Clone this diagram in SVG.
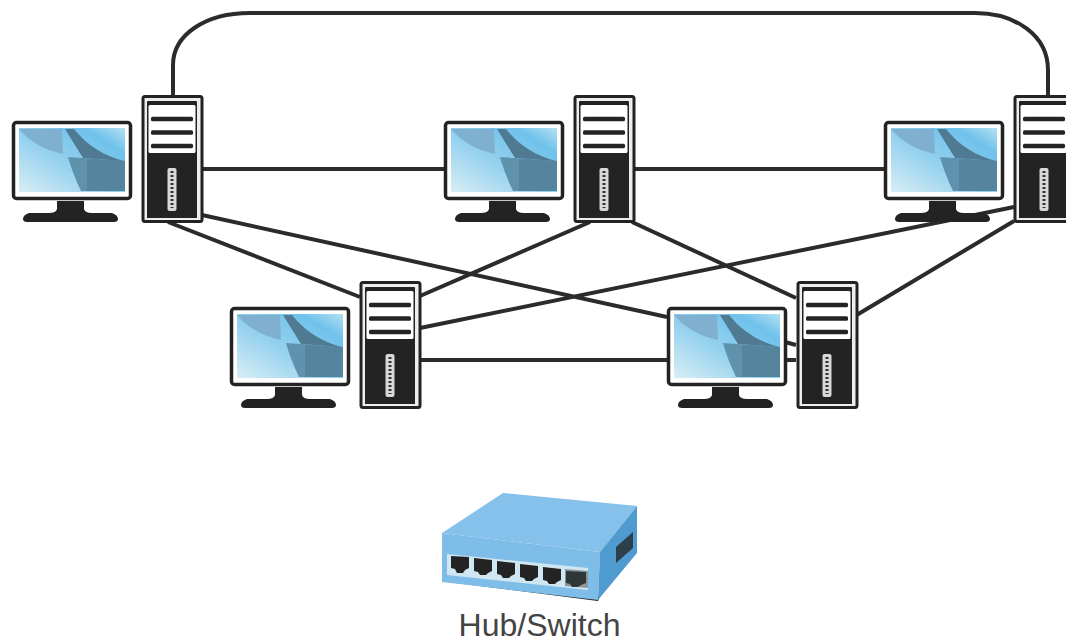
<svg xmlns="http://www.w3.org/2000/svg" width="1066" height="643" viewBox="0 0 1066 643">
<style>
.link{fill:none;stroke:#2b2b2b;stroke-width:4}
.dk{fill:#232323}
.soft{filter:blur(.5px)}
.label{font-family:"Liberation Sans",Arial,sans-serif;font-size:32px;fill:#444}
</style>
<defs>
<linearGradient id="scr" x1="0" y1="1" x2="1" y2="0">
<stop offset="0" stop-color="#d8eef5"/><stop offset=".45" stop-color="#93d0ee"/><stop offset=".8" stop-color="#6fc2ec"/><stop offset="1" stop-color="#b5e0f2"/>
</linearGradient>
<g id="pc">
<rect x="13.500" y="122.500" width="117" height="76" rx="3" fill="#fff" stroke="#232323" stroke-width="3.500"/>
<rect x="19" y="128" width="106" height="64" fill="url(#scr)"/>
<path d="M19 129H62L63 154Q35 148 19 129Z" fill="#7fb0cf"/>
<path d="M68 157L125 161V191H81Q72 172 68 157Z" fill="#5f93ad"/>
<path d="M87 159L125 161V191H87Z" fill="#55859e"/>
<path d="M65 129H74Q93 153 124 161L83 158Z" fill="#4f7a92"/>
<path d="M57 201H84V209Q85 213 92 213H112Q118 215 118 219Q118 222 114 222H27Q23 222 23 219Q23 215 29 213H49Q56 213 57 209Z" class="dk"/>
<rect x="143" y="96.500" width="59" height="125" rx="2" fill="#eee" stroke="#232323" stroke-width="3"/>
<rect x="147" y="101" width="50" height="116.500" rx="1" fill="#232323"/>
<rect x="148.500" y="105" width="47" height="48" rx="1.500" fill="#fff"/>
<rect x="151" y="116.800" width="42" height="4.500" rx="1.500" class="dk"/>
<rect x="151" y="130.300" width="42" height="4.500" rx="1.500" class="dk"/>
<rect x="151" y="143.800" width="42" height="4.500" rx="1.500" class="dk"/>
<rect x="147" y="154" width="50" height="64" class="dk"/>
<rect x="167.500" y="168" width="9" height="43" rx="2" fill="#d8d8d8"/>
<path d="M172 171V208" stroke="#333" stroke-width="3" stroke-dasharray="2 2"/>
</g>
</defs>
<g id="connectors" class="soft">
<path class="link" d="M173 96V65C173 35 205 13 250 13H975C1015 13 1048 35 1048 70V96"/>
<path class="link" d="M202 169H444M634 169H884M420 360H667M785 360H796M785 342L796 345"/>
<path class="link" d="M202 215L667 317M168 222L360 297M590 222L420 296M420 328L1014 207M632 222L796 298M855 316L1014 221"/>
</g>
<g id="computer-1" class="soft"><use href="#pc"/></g>
<g id="computer-2" class="soft"><use href="#pc" x="432"/></g>
<g id="computer-3" class="soft"><use href="#pc" x="872"/></g>
<g id="computer-4" class="soft"><use href="#pc" x="218" y="186"/></g>
<g id="computer-5" class="soft"><use href="#pc" x="655" y="186"/></g>
<g id="hub-switch">
<g class="soft">
<path d="M448 582L598 601L600 596L448 579Z" fill="#222"/>
<path d="M442 533L503 493L637 506L600 552Z" fill="#85c1ea"/>
<path d="M442 533L600 552L598 600L442 582Z" fill="#7dbde8"/>
<path d="M600 552L637 506V553L598 600Z" fill="#4f9bd0"/>
<path d="M616 547L633 532V548L616 563Z" fill="#2e3f4c"/>
<path d="M447 554L588 568V590L447 575Z" fill="#cfe6f3"/>
<g class="dk">
<path d="M451 556L469 557V568L465 570L463 573H457L455 569L451 568Z"/>
<path d="M474 558L492 560V571L488 573L486 575H480L478 572L474 571Z"/>
<path d="M497 561L515 563V574L511 576L509 578H503L501 575L497 574Z"/>
<path d="M520 564L538 566V577L534 579L532 581H526L524 578L520 577Z"/>
<path d="M543 567L561 569V580L557 582L555 584H549L547 581L543 580Z"/>
</g>
<path d="M565 569L588 571V588L565 586Z" fill="#8b969b"/>
<path d="M566 571L586 572V583L581 585L578 587H572L570 584L566 583Z" fill="#2f3638"/>
</g>
<text class="label" x="539.500" y="636" text-anchor="middle">Hub/Switch</text>
</g>
</svg>
